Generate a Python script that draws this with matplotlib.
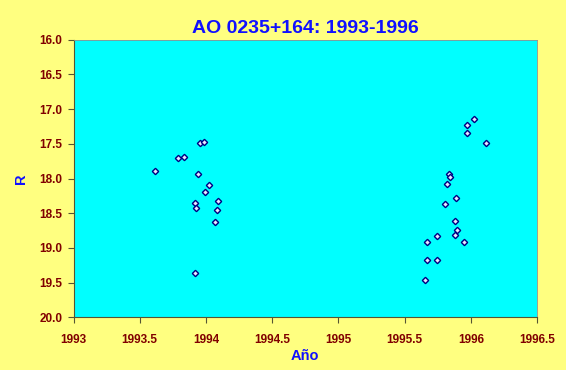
import matplotlib
matplotlib.use('Agg')
import matplotlib.pyplot as plt

# AO 0235+164 photometry, R band
year = [1993.616, 1993.792, 1993.837, 1993.953, 1993.983, 1993.943, 1994.023,
        1993.995, 1994.091, 1993.918, 1993.923, 1994.084, 1994.071, 1993.915,
        1996.025, 1995.970, 1995.974, 1996.116, 1995.838, 1995.844, 1995.821,
        1995.889, 1995.804, 1995.884, 1995.899, 1995.745, 1995.879, 1995.668,
        1995.949, 1995.672, 1995.743, 1995.657]
mag_r = [17.89, 17.70, 17.69, 17.49, 17.48, 17.94, 18.09,
         18.19, 18.32, 18.36, 18.43, 18.45, 18.62, 19.36,
         17.14, 17.23, 17.35, 17.49, 17.94, 17.98, 18.08,
         18.28, 18.37, 18.61, 18.74, 18.83, 18.82, 18.92,
         18.91, 19.18, 19.17, 19.46]

x_ticks = [1993, 1993.5, 1994, 1994.5, 1995, 1995.5, 1996, 1996.5]
x_labels = ['1993', '1993.5', '1994', '1994.5', '1995', '1995.5', '1996', '1996.5']
y_ticks = [16.0, 16.5, 17.0, 17.5, 18.0, 18.5, 19.0, 19.5, 20.0]

plt.rcParams['font.family'] = ['Liberation Sans', 'DejaVu Sans']

fig = plt.figure(figsize=(5.66, 3.70), dpi=100, facecolor='#FFFF80')
ax = fig.add_axes([0.1299, 0.1424, 0.8189, 0.7503])
ax.set_facecolor('#00FFFF')

ax.plot(year, mag_r, linestyle='none', marker='D', markersize=3.2,
        markerfacecolor='#E8E8FF', markeredgecolor='#000080', markeredgewidth=1.0)

ax.set_xlim(1993, 1996.5)
ax.set_ylim(20.0, 16.0)
ax.set_xticks(x_ticks)
ax.set_xticklabels(x_labels)
ax.set_yticks(y_ticks)
ax.set_yticklabels(['%.1f' % v for v in y_ticks])

for lab in ax.get_xticklabels() + ax.get_yticklabels():
    lab.set_color('#800000')
    lab.set_fontweight('bold')
    lab.set_fontsize(8.5)

ax.tick_params(axis='both', direction='out', length=4, width=0.8, color='#555533')
ax.tick_params(axis='x', pad=8)
ax.tick_params(axis='y', pad=4)

for side in ['left', 'bottom']:
    ax.spines[side].set_color('#555533')
    ax.spines[side].set_linewidth(0.8)
for side in ['top', 'right']:
    ax.spines[side].set_color('#909090')
    ax.spines[side].set_linewidth(0.6)

ax.set_title('AO 0235+164: 1993-1996', color='#1010FF', fontsize=14,
             fontweight='bold', pad=5)
ax.set_xlabel('Año', color='#1010FF', fontsize=10.5, fontweight='bold', labelpad=2)
ax.set_ylabel('R', color='#1010FF', fontsize=10.5, fontweight='bold', labelpad=8)

plt.savefig('out.png', dpi=100, facecolor=fig.get_facecolor())
